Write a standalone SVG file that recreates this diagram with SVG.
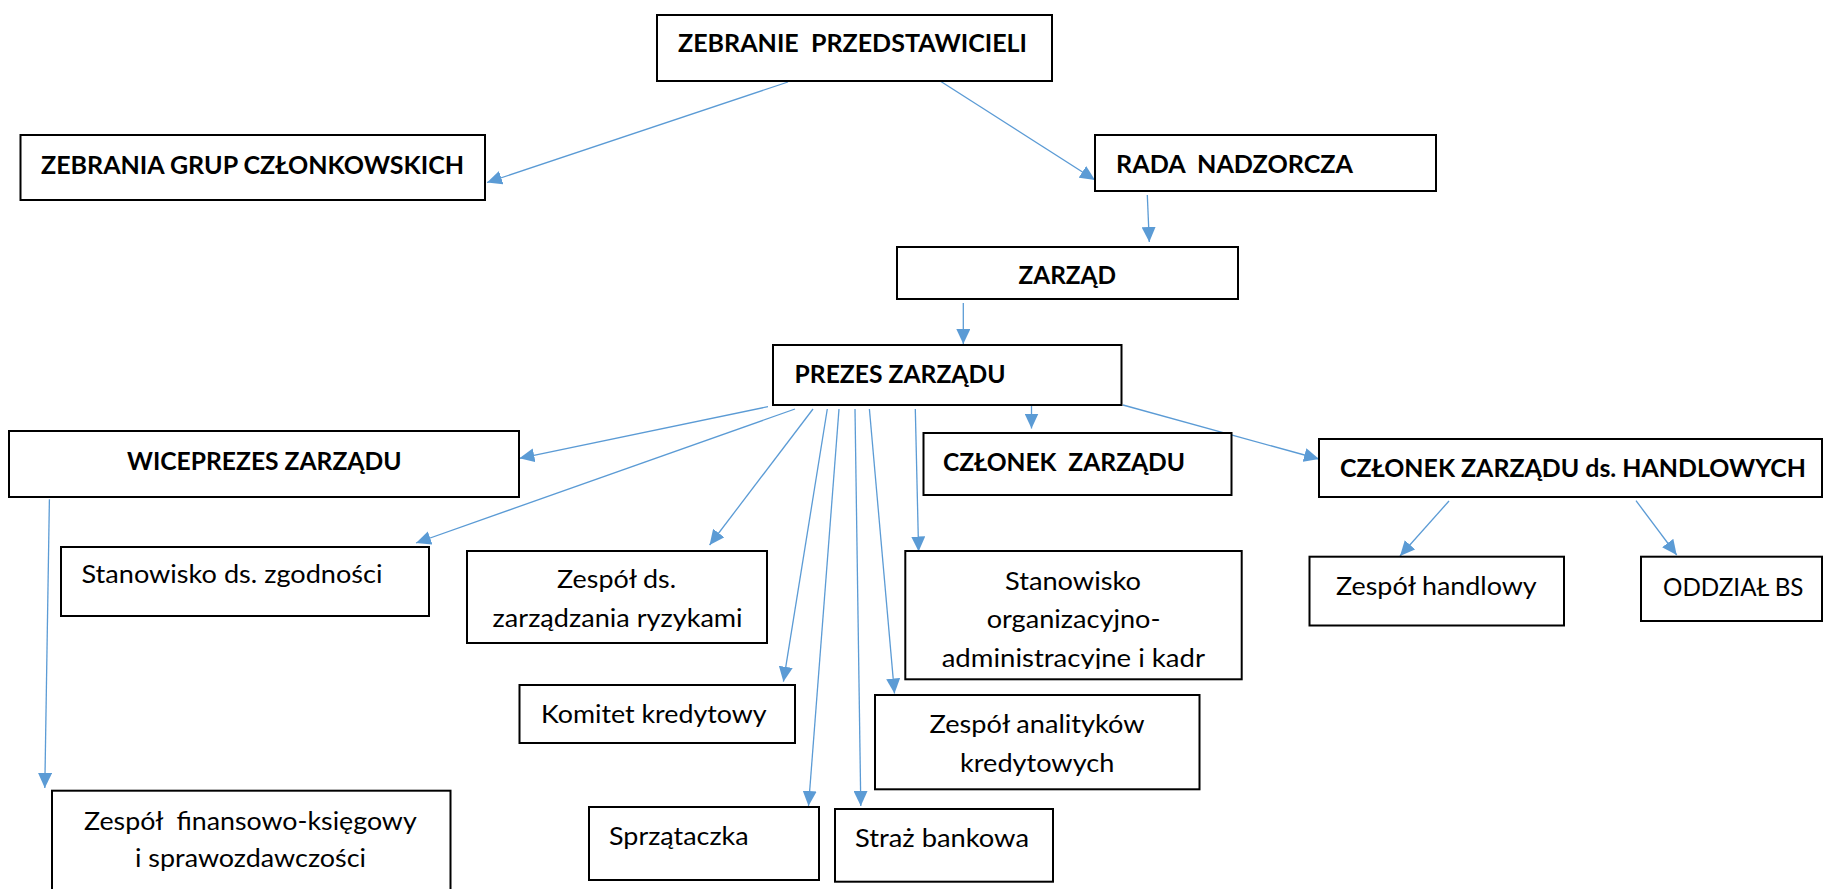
<svg xmlns="http://www.w3.org/2000/svg" width="1823" height="889" viewBox="0 0 1823 889">
<style>
.box{fill:#fff;stroke:#000;stroke-width:2}
.t{font-family:Lato,"Liberation Sans",sans-serif;font-size:25px;fill:#000;white-space:pre}
.b{font-weight:700}
.c{stroke:#5B9BD5;stroke-width:1.3;fill:none;marker-end:url(#ah)}
</style>
<defs>
<marker id="ah" markerUnits="userSpaceOnUse" markerWidth="16" markerHeight="14" refX="15" refY="7" orient="auto">
<path d="M0,0 L15,7 L0,14 z" fill="#5B9BD5"/>
</marker>
<clipPath id="clipOrg"><rect x="905" y="551" width="337" height="118"/></clipPath>
</defs>
<rect width="1823" height="889" fill="#fff"/>
<g id="connectors">
<line class="c" x1="788" y1="82" x2="487" y2="182.5"/>
<line class="c" x1="937" y1="79" x2="1095" y2="180"/>
<line class="c" x1="1147.3" y1="195" x2="1149.3" y2="242"/>
<line class="c" x1="963.3" y1="303" x2="963.3" y2="344"/>
<line class="c" x1="768" y1="406.7" x2="519.4" y2="458.3"/>
<line class="c" x1="795" y1="409" x2="416" y2="543"/>
<line class="c" x1="813" y1="409" x2="709.6" y2="545"/>
<line class="c" x1="827.3" y1="409" x2="783.4" y2="681.7"/>
<line class="c" x1="839" y1="409" x2="808.5" y2="806"/>
<line class="c" x1="855" y1="409" x2="860.8" y2="806"/>
<line class="c" x1="869.4" y1="409" x2="894.5" y2="693.5"/>
<line class="c" x1="915.3" y1="409" x2="918.6" y2="551.5"/>
<line class="c" x1="1031.5" y1="405" x2="1031.5" y2="428.5"/>
<line class="c" x1="1123" y1="405" x2="1319" y2="459"/>
<line class="c" x1="49.4" y1="499.3" x2="44.8" y2="788"/>
<line class="c" x1="1449" y1="501" x2="1400" y2="556"/>
<line class="c" x1="1636" y1="500.7" x2="1676.7" y2="555"/>
</g>
<g id="n_zebranie">
<rect class="box" x="657" y="15" width="395" height="66"/>
<text class="t b" xml:space="preserve" x="678" y="52" textLength="349" lengthAdjust="spacingAndGlyphs">ZEBRANIE  PRZEDSTAWICIELI</text>
</g>
<g id="n_grupy">
<rect class="box" x="20.5" y="135" width="464.5" height="65"/>
<text class="t b" x="41" y="174" textLength="423" lengthAdjust="spacingAndGlyphs">ZEBRANIA GRUP CZŁONKOWSKICH</text>
</g>
<g id="n_rada">
<rect class="box" x="1095" y="135" width="341" height="56"/>
<text class="t b" xml:space="preserve" x="1116" y="173.3" textLength="237" lengthAdjust="spacingAndGlyphs">RADA  NADZORCZA</text>
</g>
<g id="n_zarzad">
<rect class="box" x="897" y="247" width="341" height="52"/>
<text class="t b" x="1018.5" y="284" textLength="97.5" lengthAdjust="spacingAndGlyphs">ZARZĄD</text>
</g>
<g id="n_prezes">
<rect class="box" x="773" y="345" width="348.5" height="60"/>
<text class="t b" x="794.5" y="383" textLength="211" lengthAdjust="spacingAndGlyphs">PREZES ZARZĄDU</text>
</g>
<g id="n_wice">
<rect class="box" x="9" y="431" width="510" height="66"/>
<text class="t b" x="127" y="470" textLength="274.5" lengthAdjust="spacingAndGlyphs">WICEPREZES ZARZĄDU</text>
</g>
<g id="n_czlonek">
<rect class="box" x="923.5" y="433" width="308" height="62"/>
<text class="t b" xml:space="preserve" x="943" y="470.7" textLength="242" lengthAdjust="spacingAndGlyphs">CZŁONEK  ZARZĄDU</text>
</g>
<g id="n_handlowych">
<rect class="box" x="1319" y="439" width="503" height="58"/>
<text class="t b" x="1340" y="477" textLength="466" lengthAdjust="spacingAndGlyphs">CZŁONEK ZARZĄDU ds. HANDLOWYCH</text>
</g>
<g id="n_zgodnosc">
<rect class="box" x="61" y="547" width="368" height="69"/>
<text class="t" x="81.5" y="583" textLength="301" lengthAdjust="spacingAndGlyphs">Stanowisko ds. zgodności</text>
</g>
<g id="n_ryzyka">
<rect class="box" x="467" y="551" width="300" height="92"/>
<text class="t" x="557" y="588" textLength="119" lengthAdjust="spacingAndGlyphs">Zespół ds.</text>
<text class="t" x="492.6" y="626.7" textLength="250" lengthAdjust="spacingAndGlyphs">zarządzania ryzykami</text>
</g>
<g id="n_komitet">
<rect class="box" x="519.5" y="685" width="275.5" height="58"/>
<text class="t" x="541" y="722.7" textLength="225.6" lengthAdjust="spacingAndGlyphs">Komitet kredytowy</text>
</g>
<g id="n_organizacyjne">
<rect class="box" x="905.3" y="551" width="336.4" height="128.3"/>
<text class="t" x="1005" y="590" textLength="136" lengthAdjust="spacingAndGlyphs">Stanowisko</text>
<text class="t" x="986.7" y="628.3" textLength="173.8" lengthAdjust="spacingAndGlyphs">organizacyjno-</text>
<text class="t" x="941.7" y="666.7" textLength="263.3" lengthAdjust="spacingAndGlyphs" clip-path="url(#clipOrg)">administracyjne i kadr</text>
</g>
<g id="n_analitycy">
<rect class="box" x="875" y="695" width="324.5" height="94.3"/>
<text class="t" x="929.6" y="733.3" textLength="215" lengthAdjust="spacingAndGlyphs">Zespół analityków</text>
<text class="t" x="960" y="771.7" textLength="154.3" lengthAdjust="spacingAndGlyphs">kredytowych</text>
</g>
<g id="n_sprzataczka">
<rect class="box" x="589" y="807" width="230" height="73"/>
<text class="t" x="609" y="845" textLength="139.6" lengthAdjust="spacingAndGlyphs">Sprzątaczka</text>
</g>
<g id="n_straz">
<rect class="box" x="835" y="809" width="218" height="72.7"/>
<text class="t" x="855" y="846.7" textLength="174" lengthAdjust="spacingAndGlyphs">Straż bankowa</text>
</g>
<g id="n_handlowy">
<rect class="box" x="1309.5" y="556.7" width="254.5" height="68.8"/>
<text class="t" x="1336" y="595" textLength="200.7" lengthAdjust="spacingAndGlyphs">Zespół handlowy</text>
</g>
<g id="n_oddzial">
<rect class="box" x="1641" y="556.7" width="181" height="64.3"/>
<text class="t" x="1663" y="596" textLength="140.5" lengthAdjust="spacingAndGlyphs">ODDZIAŁ BS</text>
</g>
<g id="n_finanse">
<rect class="box" x="52" y="790.7" width="398.5" height="120"/>
<text class="t" xml:space="preserve" x="84" y="830" textLength="332.7" lengthAdjust="spacingAndGlyphs">Zespół  finansowo-księgowy</text>
<text class="t" x="135" y="866.7" textLength="231" lengthAdjust="spacingAndGlyphs">i sprawozdawczości</text>
</g>
</svg>
